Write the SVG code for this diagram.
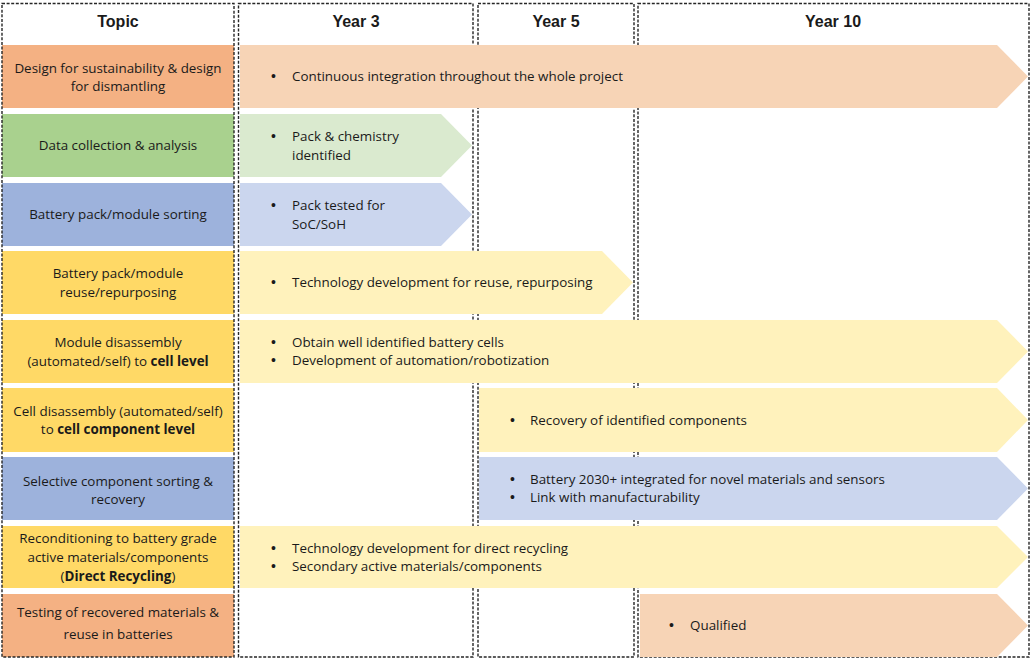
<svg xmlns="http://www.w3.org/2000/svg" width="1031" height="660" viewBox="0 0 1031 660">
<style>
text{font-family:"Open Sans","Liberation Sans",Arial,sans-serif;font-size:13.4px;fill:#1a1a1a}
.h{font-family:"Liberation Sans",Arial,sans-serif;font-size:16px;font-weight:bold;text-anchor:middle}
.bu{font-family:"Liberation Sans",Arial,sans-serif;font-size:14px}
.t{text-anchor:middle}
.b{font-weight:bold}
.col{fill:none;stroke:#262626;stroke-width:1.4;stroke-dasharray:3 1.6}
.or{fill:#F4B183}.gr{fill:#A9D18E}.bl{fill:#9DB2DC}.ye{fill:#FFD966}
.aor{fill:#F7D4B6}.agr{fill:#DAEACF}.abl{fill:#CBD6EE}.aye{fill:#FFF2BC}
</style>
<rect width="1031" height="660" fill="#fff"/>
<g id="topics">
<g id="topic1"><rect class="or" x="2" y="45" width="232" height="63"/><text class="t" x="118" y="73">Design for sustainability &amp; design</text><text class="t" x="118" y="91">for dismantling</text></g>
<g id="topic2"><rect class="gr" x="2" y="114" width="232" height="63"/><text class="t" x="118" y="150">Data collection &amp; analysis</text></g>
<g id="topic3"><rect class="bl" x="2" y="183" width="232" height="63"/><text class="t" x="118" y="219">Battery pack/module sorting</text></g>
<g id="topic4"><rect class="ye" x="2" y="251" width="232" height="63"/><text class="t" x="118" y="278">Battery pack/module</text><text class="t" x="118" y="297">reuse/repurposing</text></g>
<g id="topic5"><rect class="ye" x="2" y="320" width="232" height="63"/><text class="t" x="118" y="347">Module disassembly</text><text class="t" x="118" y="366">(automated/self) to <tspan class="b">cell level</tspan></text></g>
<g id="topic6"><rect class="ye" x="2" y="388" width="232" height="64"/><text class="t" x="118" y="416">Cell disassembly (automated/self)</text><text class="t" x="118" y="434">to <tspan class="b">cell component level</tspan></text></g>
<g id="topic7"><rect class="bl" x="2" y="457" width="232" height="63"/><text class="t" x="118" y="486">Selective component sorting &amp;</text><text class="t" x="118" y="504">recovery</text></g>
<g id="topic8"><rect class="ye" x="2" y="526" width="232" height="62"/><text class="t" x="118" y="543">Reconditioning to battery grade</text><text class="t" x="118" y="562">active materials/components</text><text class="t" x="118" y="581">(<tspan class="b">Direct Recycling</tspan>)</text></g>
<g id="topic9"><rect class="or" x="2" y="594" width="232" height="63"/><text class="t" x="118" y="617">Testing of recovered materials &amp;</text><text class="t" x="118" y="639">reuse in batteries</text></g>
</g>
<g id="columns">
<rect class="col" x="2" y="3.5" width="232" height="653.5"/>
<rect class="col" x="238.5" y="3.5" width="234.5" height="653.5"/>
<rect class="col" x="478" y="3.5" width="156" height="653.5"/>
<rect class="col" x="638" y="3.5" width="391" height="653.5"/>
<text class="h" x="118" y="27">Topic</text>
<text class="h" x="356" y="27">Year 3</text>
<text class="h" x="556" y="27">Year 5</text>
<text class="h" x="833" y="27">Year 10</text>
</g>
<g id="connectors">
<g id="arrow1"><polygon class="aor" points="240,45 997,45 1028,76.5 997,108 240,108"/><text class="bu" x="271" y="81">•</text><text x="292" y="81">Continuous integration throughout the whole project</text></g>
<g id="arrow2"><polygon class="agr" points="240,114 441,114 472,145.5 441,177 240,177"/><text class="bu" x="271" y="141">•</text><text x="292" y="141">Pack &amp; chemistry</text><text x="292" y="160">identified</text></g>
<g id="arrow3"><polygon class="abl" points="240,183 441,183 472,214.5 441,246 240,246"/><text class="bu" x="271" y="210">•</text><text x="292" y="210">Pack tested for</text><text x="292" y="229">SoC/SoH</text></g>
<g id="arrow4"><polygon class="aye" points="240,251 602,251 633,282.5 602,314 240,314"/><text class="bu" x="271" y="287">•</text><text x="292" y="287">Technology development for reuse, repurposing</text></g>
<g id="arrow5"><polygon class="aye" points="240,320 997,320 1028,351.5 997,383 240,383"/><text class="bu" x="271" y="347">•</text><text x="292" y="347">Obtain well identified battery cells</text><text class="bu" x="271" y="365">•</text><text x="292" y="365">Development of automation/robotization</text></g>
<g id="arrow6"><polygon class="aye" points="479,388 997,388 1028,420 997,452 479,452"/><text class="bu" x="510" y="425">•</text><text x="530" y="425">Recovery of identified components</text></g>
<g id="arrow7"><polygon class="abl" points="479,457 997,457 1028,488.5 997,520 479,520"/><text class="bu" x="510" y="484">•</text><text x="530" y="484">Battery 2030+ integrated for novel materials and sensors</text><text class="bu" x="510" y="502">•</text><text x="530" y="502">Link with manufacturability</text></g>
<g id="arrow8"><polygon class="aye" points="240,526 997,526 1028,557 997,588 240,588"/><text class="bu" x="271" y="553">•</text><text x="292" y="553">Technology development for direct recycling</text><text class="bu" x="271" y="571">•</text><text x="292" y="571">Secondary active materials/components</text></g>
<g id="arrow9"><polygon class="aor" points="640,594 997,594 1028,625.5 997,657 640,657"/><text class="bu" x="669" y="630">•</text><text x="690" y="630">Qualified</text></g>
</g>
</svg>
